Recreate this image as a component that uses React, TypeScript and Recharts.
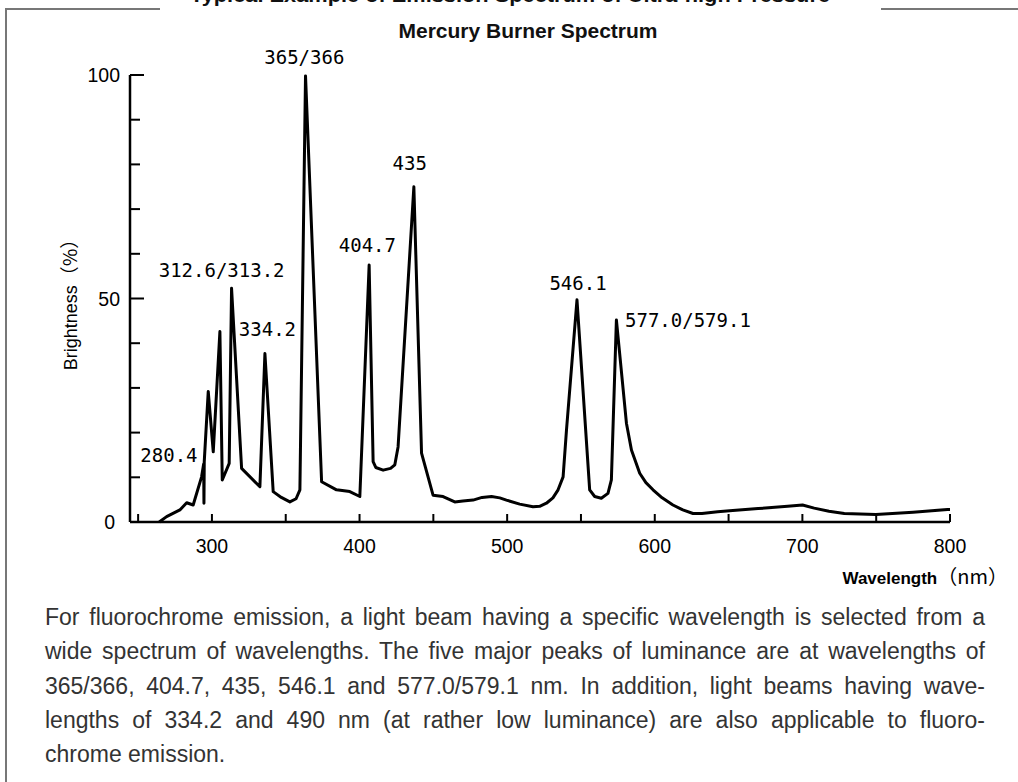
import React from "react";
import { LineChart, Line, XAxis, YAxis, ReferenceDot } from "recharts";

// spectrum trace
const wavelengths = [
  264.3, 269.3, 278.3, 282.9, 287.3, 293.0, 294.4, 294.6, 294.8, 297.5, 300.9,
  305.4, 307.0, 311.7, 313.3, 320.1, 332.5, 335.9, 341.5, 347, 352.8, 357, 359.6,
  363.4, 374.3, 384.4, 393.4, 400.2, 406.5, 409.2, 411, 416, 421, 423.9, 426.1,
  436.8, 442.0, 449.8, 456.6, 464.5, 470, 476.9, 483, 489.4, 495, 499.5, 508.5,
  517.5, 522, 526.6, 531, 534.5, 537.9, 540.2, 547.3, 555.9, 559.3, 563.8, 568.3,
  570.6, 574.0, 580.8, 584.2, 589.8, 594, 598.8, 605, 612.3, 619, 625.9, 632,
  642.6, 650.7, 670, 690, 700.1, 708, 718, 728.4, 749.8, 775, 798.3, 800,
];
const brightness = [
  0, 1.2, 2.7, 4.3, 3.8, 10.1, 13.0, 4.2, 13.5, 29.2, 15.7,
  42.6, 9.4, 13.1, 52.3, 12.0, 7.9, 37.7, 6.8, 5.5, 4.5, 5.2, 7.2,
  99.8, 9.0, 7.2, 6.8, 5.7, 57.5, 13.5, 12.2, 11.6, 12, 12.8, 16.8,
  75.0, 15.4, 6.0, 5.7, 4.5, 4.7, 4.9, 5.5, 5.7, 5.4, 4.9, 4.0,
  3.4, 3.5, 4.2, 5.4, 7.2, 10.1, 20.6, 49.7, 7.2, 5.7, 5.3, 6.4,
  9.4, 45.2, 22.1, 16.1, 10.9, 8.8, 7.2, 5.4, 3.8, 2.7, 1.9, 1.9,
  2.3, 2.5, 3.0, 3.5, 3.8, 3.1, 2.4, 1.9, 1.7, 2.2, 2.8, 2.8,
];

const xTicks = [250, 300, 350, 400, 450, 500, 550, 600, 650, 700, 750, 800];
const yTicks = [0, 10, 20, 30, 40, 50, 60, 70, 80, 90, 100];

// peak captions and where their text sits (wavelength, brightness)
const peakNames = ["280.4", "312.6/313.2", "334.2", "365/366", "404.7", "435", "546.1", "577.0/579.1"];
const peakLabelX = [270.9, 306.6, 337.6, 362.6, 405.3, 434, 548, 622.5];
const peakLabelY = [13.5, 54.9, 41.6, 102.5, 60.5, 78.7, 51.9, 43.6];

const paragraph = [
  "For fluorochrome emission, a light beam having a specific wavelength is selected from a",
  "wide spectrum of wavelengths. The five major peaks of luminance are at wavelengths of",
  "365/366, 404.7, 435, 546.1 and 577.0/579.1 nm. In addition, light beams having wave-",
  "lengths of 334.2 and 490 nm (at rather low luminance) are also applicable to fluoro-",
  "chrome emission.",
];

const data = wavelengths.map((w, i) => ({ w, b: brightness[i] }));

const sans = "'Liberation Sans', Arial, sans-serif";
const jp = "'Noto Sans CJK JP', sans-serif";

const XTick = (props: any) => {
  const { x, y, payload } = props;
  const v = payload.value;
  return (
    <g>
      <line x1={x} y1={y} x2={x} y2={y - 8} stroke="#000" strokeWidth={2} />
      {v % 100 === 0 && (
        <text x={x} y={y + 31} textAnchor="middle" fontSize={19.5} fontFamily={sans} fill="#000">
          {v}
        </text>
      )}
    </g>
  );
};

const YTick = (props: any) => {
  const { x, y, payload } = props;
  const v = payload.value;
  const len = v % 50 === 0 ? 14 : 10;
  return (
    <g>
      {v !== 0 && <line x1={x} y1={y} x2={x + len} y2={y} stroke="#000" strokeWidth={2} />}
      {v % 50 === 0 && (
        <text x={v === 0 ? x - 15 : x - 10} y={y + 7} textAnchor="end" fontSize={19.5} fontFamily={sans} fill="#000">
          {v}
        </text>
      )}
    </g>
  );
};

export default function App() {
  return (
    <div style={{ position: "absolute", left: 0, top: 0, width: 1018, height: 782, overflow: "hidden", background: "#fff" }}>
      <LineChart
        width={1018}
        height={782}
        data={data}
        margin={{ top: 75, right: 68, bottom: 220, left: 90 }}
        style={{ position: "absolute", left: 0, top: 0 }}
      >
        <XAxis
          dataKey="w"
          type="number"
          domain={[244.5, 800]}
          ticks={xTicks}
          interval={0}
          allowDataOverflow
          height={40}
          tickSize={0}
          tickMargin={0}
          tick={<XTick />}
          axisLine={{ stroke: "#000", strokeWidth: 2.5 }}
        />
        <YAxis
          type="number"
          domain={[0, 100]}
          ticks={yTicks}
          interval={0}
          width={40}
          tickSize={0}
          tickMargin={0}
          tick={<YTick />}
          axisLine={{ stroke: "#000", strokeWidth: 2.5 }}
        />
        <Line
          dataKey="b"
          type="linear"
          stroke="#000"
          strokeWidth={3}
          strokeLinejoin="round"
          dot={false}
          isAnimationActive={false}
        />
        {peakNames.map((name, i) => (
          <ReferenceDot
            key={name}
            x={peakLabelX[i]}
            y={peakLabelY[i]}
            r={0}
            ifOverflow="visible"
            shape={(p: any) => (
              <text x={p.cx} y={p.cy} textAnchor="middle" fontSize={19} fontFamily="'DejaVu Sans Mono', monospace" fill="#000">
                {name}
              </text>
            )}
          />
        ))}
      </LineChart>

      <svg width={1018} height={782} style={{ position: "absolute", left: 0, top: 0, pointerEvents: "none" }}>
        <path d="M160 9 H6 V790" fill="none" stroke="#777" strokeWidth={2} />
        <path d="M881 9 H1020" fill="none" stroke="#777" strokeWidth={2} />
        <text x={510} y={2} textAnchor="middle" fontSize={20} fontWeight="bold" fontFamily={sans} fill="#111"
          textLength={640} lengthAdjust="spacingAndGlyphs">
          Typical Example of Emission Spectrum of Ultra-high Pressure
        </text>
        <text x={528} y={38} textAnchor="middle" fontSize={21} fontWeight="bold" fontFamily={sans} fill="#111">
          Mercury Burner Spectrum
        </text>
        <text transform="translate(77 300) rotate(-90)" textAnchor="middle" fontSize={18} fontFamily={sans} fill="#000">
          Brightness
          <tspan fontSize={19} fontFamily={jp}>（%）</tspan>
        </text>
        <text x={1008} y={584} textAnchor="end" fontSize={17} fontWeight="bold" fontFamily={sans} fill="#000">
          Wavelength
          <tspan fontSize={20} fontWeight="normal" fontFamily={jp}>（nm）</tspan>
        </text>
      </svg>

      <div
        style={{
          position: "absolute",
          left: 45,
          top: 600,
          width: 940,
          fontFamily: sans,
          fontSize: 23,
          lineHeight: "34.3px",
          color: "#333",
        }}
      >
        {paragraph.map((line, i) => (
          <div
            key={i}
            style={{
              textAlign: "justify",
              textAlignLast: i < paragraph.length - 1 ? "justify" : "left",
              whiteSpace: "nowrap",
            }}
          >
            {line}
          </div>
        ))}
      </div>
    </div>
  );
}
